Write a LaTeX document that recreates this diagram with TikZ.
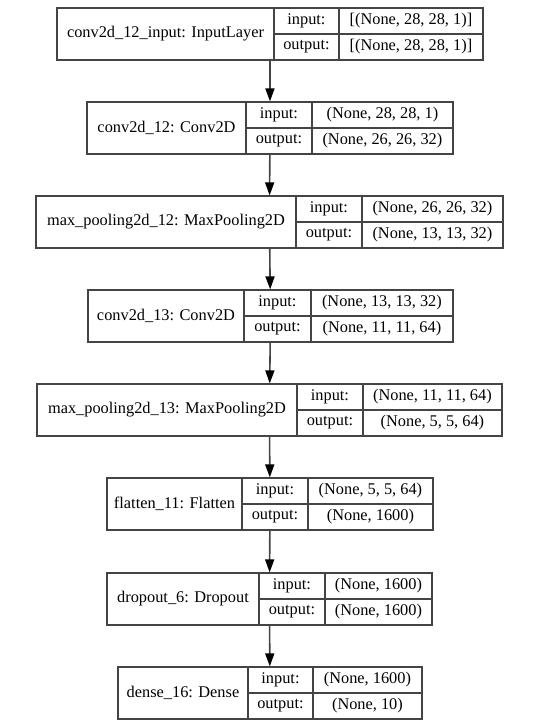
\documentclass[tikz,border=0pt]{standalone}
\usepackage{fontspec}
\setmainfont{Liberation Serif}
\usetikzlibrary{arrows.meta,positioning,fit}
\definecolor{edge}{HTML}{444444}

\begin{document}
\begin{tikzpicture}[
  x=0.02cm, y=-0.02cm,
  cell/.style={draw=edge, line width=0.7pt, inner sep=0pt, outer sep=0pt,
               font=\fontsize{9.3}{11}\selectfont, anchor=north west},
  namecell/.style={cell, minimum height=1.04cm},
  halfcell/.style={cell, minimum height=0.52cm},
  layer/.style={draw=edge, line width=0.7pt, inner sep=0pt},
  arr/.style={-{Triangle[length=0.26cm, width=0.18cm, color=black, fill=black]}, line width=0.9pt, edge}
]
  \useasboundingbox (0,0) rectangle (550,726);

  % conv2d_12_input
  \node[namecell, minimum width=4.34cm] (inp) at (57,8) {conv2d\_12\_input: InputLayer};
  \node[halfcell, minimum width=1.30cm] (inp-i) at (inp.north east) {input:};
  \node[halfcell, minimum width=1.30cm] (inp-o) at (inp-i.south west) {output:};
  \node[halfcell, minimum width=2.88cm] (inp-iv) at (inp-i.north east) {[(None, 28, 28, 1)]};
  \node[halfcell, minimum width=2.88cm] (inp-ov) at (inp-o.north east) {[(None, 28, 28, 1)]};
  \node[layer, fit=(inp)(inp-iv)(inp-ov)] (inp-box) {};

  % conv2d_12
  \node[namecell, minimum width=3.18cm] (conv12) at (87,102) {conv2d\_12: Conv2D};
  \node[halfcell, minimum width=1.32cm] (conv12-i) at (conv12.north east) {input:};
  \node[halfcell, minimum width=1.32cm] (conv12-o) at (conv12-i.south west) {output:};
  \node[halfcell, minimum width=2.82cm] (conv12-iv) at (conv12-i.north east) {(None, 28, 28, 1)};
  \node[halfcell, minimum width=2.82cm] (conv12-ov) at (conv12-o.north east) {(None, 26, 26, 32)};
  \node[layer, fit=(conv12)(conv12-iv)(conv12-ov)] (conv12-box) {};

  % max_pooling2d_12
  \node[namecell, minimum width=5.20cm] (pool12) at (36,196) {max\_pooling2d\_12: MaxPooling2D};
  \node[halfcell, minimum width=1.32cm] (pool12-i) at (pool12.north east) {input:};
  \node[halfcell, minimum width=1.32cm] (pool12-o) at (pool12-i.south west) {output:};
  \node[halfcell, minimum width=2.82cm] (pool12-iv) at (pool12-i.north east) {(None, 26, 26, 32)};
  \node[halfcell, minimum width=2.82cm] (pool12-ov) at (pool12-o.north east) {(None, 13, 13, 32)};
  \node[layer, fit=(pool12)(pool12-iv)(pool12-ov)] (pool12-box) {};

  % conv2d_13
  \node[namecell, minimum width=3.12cm] (conv13) at (88,290) {conv2d\_13: Conv2D};
  \node[halfcell, minimum width=1.34cm] (conv13-i) at (conv13.north east) {input:};
  \node[halfcell, minimum width=1.34cm] (conv13-o) at (conv13-i.south west) {output:};
  \node[halfcell, minimum width=2.84cm] (conv13-iv) at (conv13-i.north east) {(None, 13, 13, 32)};
  \node[halfcell, minimum width=2.84cm] (conv13-ov) at (conv13-o.north east) {(None, 11, 11, 64)};
  \node[layer, fit=(conv13)(conv13-iv)(conv13-ov)] (conv13-box) {};

  % max_pooling2d_13
  \node[namecell, minimum width=5.20cm] (pool13) at (37,384) {max\_pooling2d\_13: MaxPooling2D};
  \node[halfcell, minimum width=1.32cm] (pool13-i) at (pool13.north east) {input:};
  \node[halfcell, minimum width=1.32cm] (pool13-o) at (pool13-i.south west) {output:};
  \node[halfcell, minimum width=2.78cm] (pool13-iv) at (pool13-i.north east) {(None, 11, 11, 64)};
  \node[halfcell, minimum width=2.78cm] (pool13-ov) at (pool13-o.north east) {(None, 5, 5, 64)};
  \node[layer, fit=(pool13)(pool13-iv)(pool13-ov)] (pool13-box) {};

  % flatten_11
  \node[namecell, minimum width=2.70cm] (flat11) at (107,478) {flatten\_11: Flatten};
  \node[halfcell, minimum width=1.32cm] (flat11-i) at (flat11.north east) {input:};
  \node[halfcell, minimum width=1.32cm] (flat11-o) at (flat11-i.south west) {output:};
  \node[halfcell, minimum width=2.50cm] (flat11-iv) at (flat11-i.north east) {(None, 5, 5, 64)};
  \node[halfcell, minimum width=2.50cm] (flat11-ov) at (flat11-o.north east) {(None, 1600)};
  \node[layer, fit=(flat11)(flat11-iv)(flat11-ov)] (flat11-box) {};

  % dropout_6
  \node[namecell, minimum width=3.04cm] (drop6) at (107,573) {dropout\_6: Dropout};
  \node[halfcell, minimum width=1.32cm] (drop6-i) at (drop6.north east) {input:};
  \node[halfcell, minimum width=1.32cm] (drop6-o) at (drop6-i.south west) {output:};
  \node[halfcell, minimum width=2.14cm] (drop6-iv) at (drop6-i.north east) {(None, 1600)};
  \node[halfcell, minimum width=2.14cm] (drop6-ov) at (drop6-o.north east) {(None, 1600)};
  \node[layer, fit=(drop6)(drop6-iv)(drop6-ov)] (drop6-box) {};

  % dense_16
  \node[namecell, minimum width=2.60cm] (dense16) at (118,667) {dense\_16: Dense};
  \node[halfcell, minimum width=1.30cm] (dense16-i) at (dense16.north east) {input:};
  \node[halfcell, minimum width=1.30cm] (dense16-o) at (dense16-i.south west) {output:};
  \node[halfcell, minimum width=2.18cm] (dense16-iv) at (dense16-i.north east) {(None, 1600)};
  \node[halfcell, minimum width=2.18cm] (dense16-ov) at (dense16-o.north east) {(None, 10)};
  \node[layer, fit=(dense16)(dense16-iv)(dense16-ov)] (dense16-box) {};

  \draw[arr] (inp-box) -- (conv12-box);
  \draw[arr] (conv12-box) -- (pool12-box);
  \draw[arr] (pool12-box) -- (conv13-box);
  \draw[arr] (conv13-box) -- (pool13-box);
  \draw[arr] (pool13-box) -- (flat11-box);
  \draw[arr] (flat11-box) -- (drop6-box);
  \draw[arr] (drop6-box) -- (dense16-box);
\end{tikzpicture}
\end{document}
